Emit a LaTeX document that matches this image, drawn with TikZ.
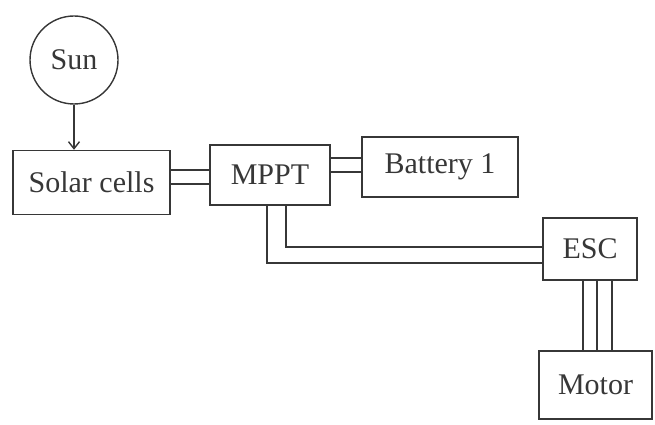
\documentclass[tikz,border=0pt]{standalone}
\usepackage{fontspec}
\setmainfont{Liberation Serif}
\usetikzlibrary{arrows.meta}
\definecolor{ink}{RGB}{55,55,55}
\begin{document}
\begin{tikzpicture}[x=1pt,y=-1pt,
  every node/.style={font=\fontsize{30}{36}\selectfont, text=ink},
  blk/.style={draw=ink, line width=1.4pt, inner sep=0pt},
  wire/.style={draw=ink, line width=1.4pt},
]
\useasboundingbox (0,0) rectangle (655,425);
\node[blk, circle, minimum size=88pt] (sun) at (74,60) {Sun};
\node[blk, minimum width=157pt, minimum height=64pt] (sol) at (91.5,182.5) {Solar cells};
\node[blk, minimum width=120pt, minimum height=60pt] (mppt) at (270,175) {MPPT};
\node[blk, minimum width=156pt, minimum height=60pt] (bat) at (440,167) {Battery 1};
\node[blk, minimum width=94pt, minimum height=62pt] (esc) at (590,249) {ESC};
\node[blk, minimum width=113pt, minimum height=68pt] (mot) at (595.5,385) {Motor};
% arrow
\draw[wire, -{Straight Barb[length=7pt,width=11pt]}] (sun.south) -- (sol.north -| sun.south);
% solar -- mppt
\draw[wire] (sol.east |- 0,170) -- (mppt.west |- 0,170);
\draw[wire] (sol.east |- 0,184) -- (mppt.west |- 0,184);
% mppt -- battery
\draw[wire] (mppt.east |- 0,158) -- (bat.west |- 0,158);
\draw[wire] (mppt.east |- 0,172) -- (bat.west |- 0,172);
% mppt -- esc
\draw[wire] (mppt.south -| 286,0) -- (286,247) -- (esc.west |- 0,247);
\draw[wire] (mppt.south -| 267,0) -- (267,263) -- (esc.west |- 0,263);
% esc -- motor
\draw[wire] (esc.south -| 583,0) -- (mot.north -| 583,0);
\draw[wire] (esc.south -| 597,0) -- (mot.north -| 597,0);
\draw[wire] (esc.south -| 612,0) -- (mot.north -| 612,0);
\end{tikzpicture}
\end{document}
